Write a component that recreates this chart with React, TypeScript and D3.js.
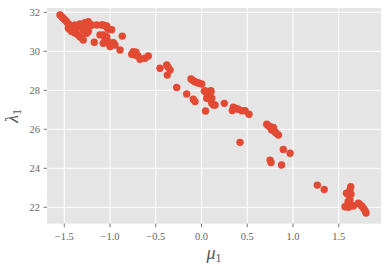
import { scaleLinear } from "d3";

// mu_1 (x) and lambda_1 (y)
const mu1 = [
  -1.547, -1.525, -1.511, -1.492, -1.474, -1.459, -1.438, -1.419, -1.456, -1.438,
  -1.419, -1.402, -1.383, -1.364, -1.35, -1.328, -1.31, -1.292, -1.383, -1.35,
  -1.328, -1.296, -1.274, -1.248, -1.238, -1.227, -1.2, -1.255, -1.292, -1.238,
  -1.172, -1.146, -1.091, -1.074, -1.036, -1.036, -1.019, -0.982, -1.11, -1.074,
  -1.056, -1.036, -1.074, -1.019, -1.019, -1.0, -0.964, -0.946, -0.866, -0.891,
  -0.763, -0.746, -0.727, -0.716, -0.694, -0.672, -0.618, -0.582, -0.454, -0.38,
  -0.366, -0.344, -0.374, -0.271, -0.162, -0.115, -0.093, -0.071, -0.049, -0.027,
  0.002, -0.09, -0.071, 0.031, 0.057, 0.038, 0.101, 0.104, 0.074, 0.057,
  0.093, 0.112, 0.112, 0.129, 0.148, 0.044, 0.249, 0.348, 0.337, 0.377,
  0.402, 0.44, 0.476, 0.519, 0.713, 0.733, 0.749, 0.785, 0.767, 0.785,
  0.804, 0.814, 0.84, 0.421, 0.894, 0.968, 0.749, 0.76, 0.875, 1.266,
  1.341, 1.631, 1.623, 1.585, 1.616, 1.623, 1.602, 1.587, 1.569, 1.605,
  1.642, 1.66, 1.714, 1.725, 1.751, 1.769, 1.787, 1.798, 1.634,
];
const lambda1 = [
  31.86, 31.76, 31.69, 31.61, 31.52, 31.4, 31.35, 31.26, 31.18, 31.11,
  31.01, 31.09, 30.94, 30.92, 30.84, 30.75, 30.68, 30.58, 31.35, 31.25,
  31.4, 31.35, 31.47, 31.47, 31.52, 31.26, 31.35, 30.92, 31.09, 31.01,
  30.46, 31.35, 31.35, 31.35, 31.3, 31.23, 31.13, 31.11, 30.84, 30.84,
  30.67, 30.75, 30.41, 30.49, 30.41, 30.24, 30.44, 30.32, 30.78, 30.07,
  29.85, 29.98, 29.81, 29.96, 29.76, 29.59, 29.64, 29.76, 29.13, 29.3,
  29.19, 29.04, 28.78, 28.15, 27.81, 28.58, 28.5, 28.44, 28.4, 28.36,
  28.32, 27.54, 27.42, 27.96, 27.85, 27.98, 27.98, 27.93, 27.67, 27.59,
  27.54, 27.59, 27.33, 27.25, 27.25, 26.94, 27.33, 27.13, 26.96, 27.07,
  27.03, 26.95, 26.95, 26.77, 26.26, 26.17, 26.13, 26.1, 25.96, 26.05,
  25.88, 25.81, 25.71, 25.33, 24.97, 24.77, 24.42, 24.3, 24.17, 23.14,
  22.92, 23.06, 22.89, 22.72, 22.54, 22.37, 22.29, 22.07, 22.03, 22.0,
  22.09, 22.07, 22.21, 22.17, 22.07, 21.96, 21.84, 21.71, 22.67,
];

const xTicks = [-1.5, -1.0, -0.5, 0.0, 0.5, 1.0, 1.5];
const yTicks = [22, 24, 26, 28, 30, 32];

const WIDTH = 390;
const HEIGHT = 270;
const PLOT = { left: 47, right: 381, top: 8, bottom: 223.7 };

const FONT = "'Liberation Serif', 'DejaVu Serif', serif";
const LABEL = "#555555";

const fmt = (v: number) => (v < 0 ? "\u2212" : "") + Math.abs(v).toFixed(1);

export default function App() {
  const x = scaleLinear().domain([-1.689, 1.962]).range([PLOT.left, PLOT.right]);
  const y = scaleLinear().domain([21.16, 32.22]).range([PLOT.bottom, PLOT.top]);

  return (
    <div style={{ position: "fixed", left: 0, top: 0 }}>
      <svg width={WIDTH} height={HEIGHT} style={{ display: "block", background: "white" }}>
        <rect
          x={PLOT.left}
          y={PLOT.top}
          width={PLOT.right - PLOT.left}
          height={PLOT.bottom - PLOT.top}
          fill="#E5E5E5"
        />
        {xTicks.map((t) => (
          <g key={`x${t}`}>
            <line x1={x(t)} x2={x(t)} y1={PLOT.top} y2={PLOT.bottom} stroke="white" strokeWidth={1} />
            <line x1={x(t)} x2={x(t)} y1={PLOT.bottom} y2={PLOT.bottom + 3.5} stroke={LABEL} strokeWidth={0.8} />
            <text x={x(t)} y={PLOT.bottom + 16} textAnchor="middle" fontSize={10.5} fill="#666" fontFamily={FONT}>
              {fmt(t)}
            </text>
          </g>
        ))}
        {yTicks.map((t) => (
          <g key={`y${t}`}>
            <line x1={PLOT.left} x2={PLOT.right} y1={y(t)} y2={y(t)} stroke="white" strokeWidth={1} />
            <line x1={PLOT.left - 3.5} x2={PLOT.left} y1={y(t)} y2={y(t)} stroke={LABEL} strokeWidth={0.8} />
            <text x={PLOT.left - 7} y={y(t)} dy="0.35em" textAnchor="end" fontSize={10.5} fill="#666" fontFamily={FONT}>
              {t}
            </text>
          </g>
        ))}

        {mu1.map((m, i) => (
          <circle key={i} cx={x(m)} cy={y(lambda1[i])} r={3.7} fill="#E24A33" />
        ))}

        <text x={214} y={259} textAnchor="middle" fontSize={18} fill={LABEL} fontFamily={FONT} fontStyle="italic">
          μ<tspan fontSize={12} dy={3} fontStyle="normal">1</tspan>
        </text>
        <text
          transform={`translate(18,${(PLOT.top + PLOT.bottom) / 2}) rotate(-90)`}
          textAnchor="middle"
          fontSize={18}
          fill={LABEL}
          fontFamily={FONT}
          fontStyle="italic"
        >
          λ<tspan fontSize={12} dy={3} fontStyle="normal">1</tspan>
        </text>
      </svg>
    </div>
  );
}
